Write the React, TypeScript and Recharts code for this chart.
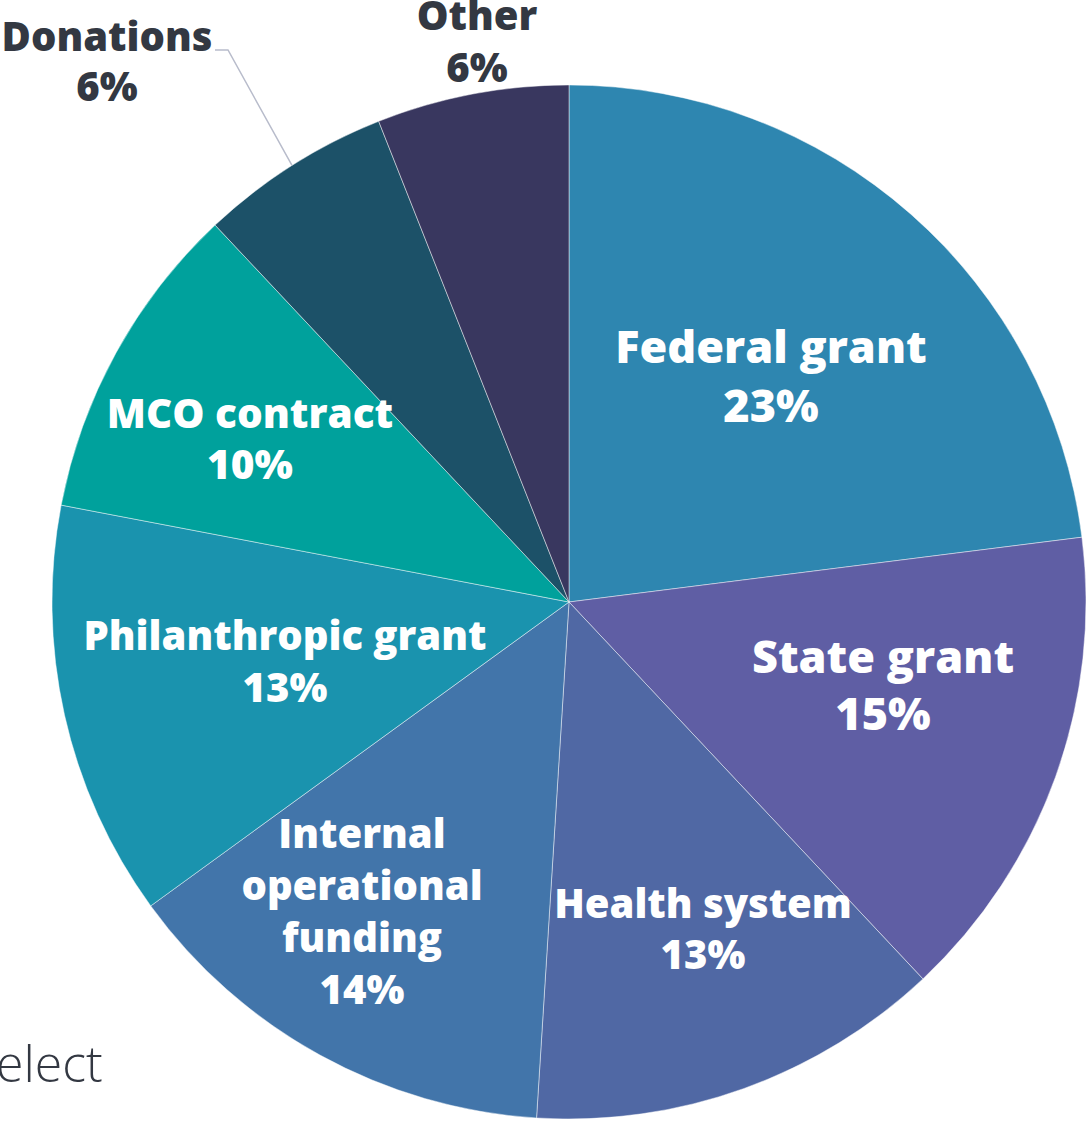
import React from 'react';
import { PieChart, Pie, Cell } from 'recharts';

const categories = [
  'Federal grant',
  'State grant',
  'Health system',
  'Internal operational funding',
  'Philanthropic grant',
  'MCO contract',
  'Donations',
  'Other',
];
const shares = [23, 15, 13, 14, 13, 10, 6, 6];

// label text broken into lines as in the original graphic
const labelLines = [
  ['Federal grant'],
  ['State grant'],
  ['Health system'],
  ['Internal', 'operational', 'funding'],
  ['Philanthropic grant'],
  ['MCO contract'],
  ['Donations'],
  ['Other'],
];

const COLORS = ['#2E86B0', '#5F5EA4', '#5068A4', '#4275AA', '#1A93AE', '#00A19C', '#1C5168', '#39375F'];

// label anchors relative to the pie centre: dx, first baseline dy, line height, font size, inside?
const LABEL_LAYOUT = [
  { dx: 202, dy: -239, lh: 59, fs: 45, inside: true },
  { dx: 314, dy: 71, lh: 57, fs: 45, inside: true },
  { dx: 134, dy: 316, lh: 51, fs: 40, inside: true },
  { dx: -207, dy: 246, lh: 52, fs: 40, inside: true },
  { dx: -284, dy: 48, lh: 52, fs: 40, inside: true },
  { dx: -319, dy: -174, lh: 51, fs: 40.5, inside: true },
  { dx: -462, dy: -551, lh: 50, fs: 40, inside: false },
  { dx: -92, dy: -572, lh: 52, fs: 40, inside: false },
];

const data = categories.map((name, i) => ({ name, value: shares[i] }));

const W = 1089;
const H = 1121;
const CX = 569;
const CY = 602;
const R = 517;
const FONT = '"Open Sans", Lato, sans-serif';

const renderLabel = (props: any) => {
  const { cx, cy, midAngle, outerRadius, index } = props;
  const lay = LABEL_LAYOUT[index];
  const x = cx + lay.dx;
  const y0 = cy + lay.dy;
  const lines = [...labelLines[index], `${shares[index]}%`];
  const fill = lay.inside ? '#ffffff' : '#333842';
  let leader = null;
  if (categories[index] === 'Donations') {
    const rad = (Math.PI / 180) * midAngle;
    const px = cx + outerRadius * Math.cos(rad);
    const py = cy - outerRadius * Math.sin(rad);
    leader = (
      <polyline
        points={`${px},${py} ${x + 121},${y0 - 1} ${x + 108},${y0 - 1}`}
        fill="none"
        stroke="#B8BCCB"
        strokeWidth={1.5}
      />
    );
  }
  return (
    <g key={`lbl-${index}`}>
      {leader}
      <text x={x} y={y0} textAnchor="middle" fill={fill} fontFamily={FONT} fontWeight={800} fontSize={lay.fs}>
        {lines.map((l, j) => (
          <tspan key={j} x={x} y={y0 + j * lay.lh}>{l}</tspan>
        ))}
      </text>
    </g>
  );
};

export default function App() {
  return (
    <div style={{ position: 'absolute', left: 0, top: 0, width: W, height: H, background: '#ffffff', overflow: 'hidden' }}>
      <div style={{ position: 'absolute', left: -4, top: 1029, fontFamily: FONT, fontSize: 50, fontWeight: 300, color: '#333842' }}>
        elect
      </div>
      <div style={{ position: 'absolute', left: 0, top: 0 }}>
        <PieChart width={W} height={H} margin={{ top: 0, right: 0, bottom: 0, left: 0 }}>
          <Pie
            data={data}
            dataKey="value"
            nameKey="name"
            cx={CX}
            cy={CY}
            outerRadius={R}
            startAngle={90}
            endAngle={-270}
            stroke="rgba(255,255,255,0.45)"
            strokeWidth={1}
            label={renderLabel}
            labelLine={false}
            isAnimationActive={false}
          >
            {data.map((d, i) => (
              <Cell key={d.name} fill={COLORS[i]} />
            ))}
          </Pie>
        </PieChart>
      </div>
    </div>
  );
}
